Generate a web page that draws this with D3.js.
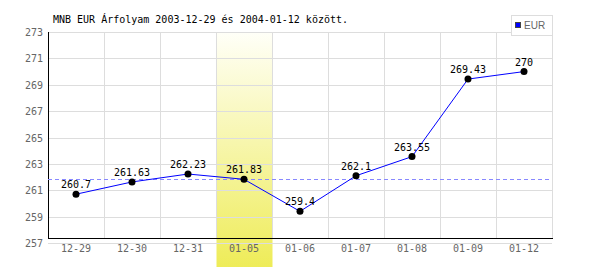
<!DOCTYPE html>
<head>
<meta charset="utf-8">
<style>
    body { margin: 0; background: #fff; }
    text { font-family: "DejaVu Sans Mono", monospace; }
</style>
</head>
<body>
<script src="https://d3js.org/d3.v7.min.js"></script>
<script>

// data
const days = ['12-29', '12-30', '12-31', '01-05', '01-06', '01-07', '01-08', '01-09', '01-12'];
const eur = [260.7, 261.63, 262.23, 261.83, 259.4, 262.1, 263.55, 269.43, 270];
const yTicks = [257, 259, 261, 263, 265, 267, 269, 271, 273];
const highlightDay = '01-05';
const titleText = 'MNB EUR Árfolyam 2003-12-29 és 2004-01-12 között.';
const seriesName = 'EUR';

// setup
const W = 600, H = 270;
const plotL = 48, plotR = 552, plotT = 32, plotB = 243, axisY = 238;

const svg = d3.select('body').append('svg')
    .attr('width', W)
    .attr('height', H);

const x = d3.scaleBand().domain(days).range([plotL, plotR]).padding(0);
const y = d3.scaleLinear().domain([257, 273]).range([plotB, plotT]);

// highlight column
const grad = svg.append('defs').append('linearGradient')
    .attr('id', 'hl').attr('x1', 0).attr('y1', 0).attr('x2', 0).attr('y2', 1);
grad.append('stop').attr('offset', '0%').attr('stop-color', '#fffff8');
grad.append('stop').attr('offset', '100%').attr('stop-color', '#eeec58');

svg.append('rect')
    .attr('x', x(highlightDay) + 0.5)
    .attr('y', plotT)
    .attr('width', x.bandwidth())
    .attr('height', 267 - plotT)
    .attr('fill', 'url(#hl)');

// grid
svg.append('g').selectAll('line').data(yTicks).join('line')
    .attr('x1', plotL).attr('x2', plotR)
    .attr('y1', d => Math.round(y(d)) + 0.5).attr('y2', d => Math.round(y(d)) + 0.5)
    .attr('stroke', '#dddddd');

svg.append('g').selectAll('line').data(days).join('line')
    .attr('x1', d => Math.round(x(d) + x.bandwidth()) + 0.5)
    .attr('x2', d => Math.round(x(d) + x.bandwidth()) + 0.5)
    .attr('y1', plotT).attr('y2', axisY)
    .attr('stroke', '#dddddd');

// axes
svg.append('line')
    .attr('x1', plotL + 0.5).attr('x2', plotL + 0.5)
    .attr('y1', plotT).attr('y2', axisY + 1)
    .attr('stroke', '#000');
svg.append('line')
    .attr('x1', plotL).attr('x2', plotR + 1)
    .attr('y1', axisY + 0.5).attr('y2', axisY + 0.5)
    .attr('stroke', '#000');

svg.append('g').selectAll('text').data(yTicks).join('text')
    .attr('x', 43)
    .attr('y', d => y(d) + 4)
    .attr('text-anchor', 'end')
    .attr('font-size', 10)
    .attr('fill', '#666')
    .text(d => d);

svg.append('g').selectAll('text').data(days).join('text')
    .attr('x', d => x(d) + x.bandwidth() / 2)
    .attr('y', 252)
    .attr('text-anchor', 'middle')
    .attr('font-size', 10)
    .attr('fill', '#666')
    .text(d => d);

// reference line at the highlighted day's value
const refVal = eur[days.indexOf(highlightDay)];
svg.append('line')
    .attr('x1', plotL).attr('x2', plotR)
    .attr('y1', Math.round(y(refVal)) + 0.5).attr('y2', Math.round(y(refVal)) + 0.5)
    .attr('stroke', '#8888ff')
    .attr('stroke-dasharray', '4,3');

// series
const pts = days.map((d, i) => ({ day: d, v: eur[i] }));
const cx = d => x(d.day) + x.bandwidth() / 2;

svg.append('path')
    .datum(pts)
    .attr('d', d3.line().x(cx).y(d => y(d.v)))
    .attr('fill', 'none')
    .attr('stroke', '#0000ff')
    .attr('stroke-width', 1);

svg.append('g').selectAll('circle').data(pts).join('circle')
    .attr('cx', cx)
    .attr('cy', d => y(d.v))
    .attr('r', 3.5)
    .attr('fill', '#000');

svg.append('g').selectAll('text').data(pts).join('text')
    .attr('x', cx)
    .attr('y', d => y(d.v) - 6)
    .attr('text-anchor', 'middle')
    .attr('font-size', 10)
    .attr('fill', '#000')
    .text(d => d.v);

// title
svg.append('text')
    .attr('x', 53).attr('y', 23)
    .attr('font-size', 10)
    .attr('fill', '#000')
    .text(titleText);

// legend
svg.append('rect')
    .attr('x', 511.5).attr('y', 15.5).attr('width', 41).attr('height', 20)
    .attr('fill', '#fff').attr('stroke', '#dddddd');
svg.append('rect')
    .attr('x', 515.5).attr('y', 22.5).attr('width', 5).attr('height', 5)
    .attr('fill', '#0000ff').attr('stroke', '#444');
svg.append('text')
    .attr('x', 524).attr('y', 29)
    .attr('font-size', 10)
    .style('font-family', 'Arial, "Liberation Sans", sans-serif')
    .attr('fill', '#666')
    .text(seriesName);

</script>
</body>
